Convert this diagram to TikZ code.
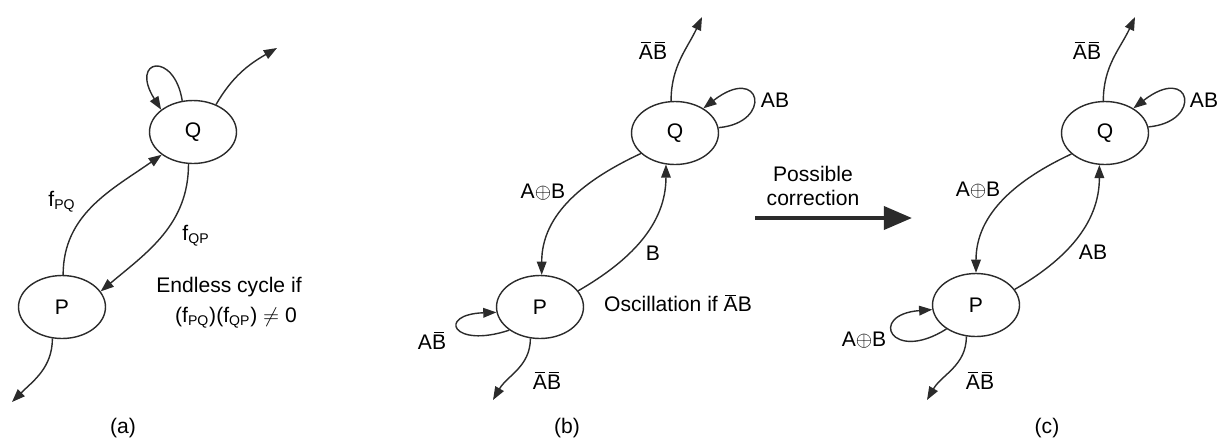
\documentclass[tikz,border=0pt]{standalone}
\usepackage{fontspec}
\setmainfont{Liberation Sans}
\usepackage{tikz}
\usetikzlibrary{arrows.meta,positioning,shapes.geometric}
\newcommand{\nbar}[1]{\kern1pt$\overline{\mbox{\kern-1pt#1\kern-1pt}}$\kern1pt}
\newcommand{\lsub}[1]{$_{\mbox{\fontsize{8}{9}\selectfont #1}}$}

\begin{document}
\begin{tikzpicture}[x=0.02cm,y=-0.02cm,>={Triangle[length=7.5pt,width=5.5pt]},
    every node/.style={font=\fontsize{12}{14}\selectfont},
    stnode/.style={draw=ink, ellipse, inner sep=0pt, line width=0.8pt,
      minimum width=1.74cm, minimum height=1.26cm},
    trans/.style={->, draw=ink, line width=0.8pt}]
  \definecolor{ink}{HTML}{2B2B2B}
  \useasboundingbox (0,0) rectangle (1223,437);
  % (a)
  \node[stnode] (Qa) at (193,132) {Q};
  \node[stnode] (Pa) at (62,307) {P};
  \coordinate (oQa) at (277,48);
  \coordinate (oPa) at (12,402);
  \draw[trans] (Qa.109) .. controls +(-8,-50) and +(-32,-51) .. (Qa.145);
  \draw[trans] (Qa.50) to[out=60,in=210] (oQa);
  \draw[trans] (Pa.88) to[out=90,in=215] (Qa.216);
  \draw[trans] (Qa.262) to[out=270,in=40] (Pa.22);
  \draw[trans] (Pa.253) to[out=270,in=45] (oPa);
  \node (fPQ) at (62,202) {f\lsub{PQ}};
  \node (fQP) at (196,236) {f\lsub{QP}};
  \node (cyc1) at (229,287) {Endless cycle if};
  \node (cyc2) at (236,318) {(f\lsub{PQ})(f\lsub{QP}) $\neq$ 0};
  \node (capa) at (123,428) {(a)};
  % (b)
  \node[stnode] (Qb) at (675,133) {Q};
  \node[stnode] (Pb) at (540,307) {P};
  \coordinate (oQb) at (702,17);
  \coordinate (oPb) at (493,400);
  \draw[trans] (Qb.97) to[out=90,in=245] (oQb);
  \draw[trans] (Qb.7) .. controls +(55,-5) and +(58,-45) .. (Qb.41);
  \draw[trans] (Qb.211) to[out=205,in=90] (Pb.87);
  \draw[trans] (Pb.23) to[out=30,in=270] (Qb.254);
  \draw[trans] (Pb.217) .. controls +(-57,19) and +(-60,2) .. (Pb.187);
  \draw[trans] (Pb.253) to[out=270,in=60] (oPb);
  \node (xQb) at (653,50) {\nbar{A}\nbar{B}};
  \node (sQb) at (775,100) {AB};
  \node (pqb) at (543,192) {A$\oplus$B};
  \node (qpb) at (653,253) {B};
  \node (osc) at (678,303) {Oscillation if \nbar{A}B};
  \node (sPb) at (432,340) {A\nbar{B}};
  \node (xPb) at (547,380) {\nbar{A}\nbar{B}};
  \node (capb) at (567,428) {(b)};
  % correction arrow
  \coordinate (cs) at (755,218);
  \coordinate (ce) at (912,218);
  \draw[line width=2.4pt, ink, -{Triangle[length=16pt,width=13pt]}] (cs) -- (ce);
  \node[align=center] (corr) at (813,186) {Possible\\correction};
  % (c)
  \node[stnode] (Qc) at (1105,133) {Q};
  \node[stnode] (Pc) at (976,305) {P};
  \coordinate (oQc) at (1135,17);
  \coordinate (oPc) at (927,400);
  \draw[trans] (Qc.93) to[out=90,in=245] (oQc);
  \draw[trans] (Qc.8) .. controls +(55,-5) and +(58,-45) .. (Qc.41);
  \draw[trans] (Qc.212) to[out=205,in=90] (Pc.90);
  \draw[trans] (Pc.22) to[out=30,in=270] (Qc.260);
  \draw[trans] (Pc.219) .. controls +(-55,35) and +(-65,5) .. (Pc.186);
  \draw[trans] (Pc.253) to[out=270,in=60] (oPc);
  \node (xQc) at (1087,50) {\nbar{A}\nbar{B}};
  \node (sQc) at (1204,100) {AB};
  \node (pqc) at (978,190) {A$\oplus$B};
  \node (qpc) at (1093,252) {AB};
  \node (sPc) at (864,340) {A$\oplus$B};
  \node (xPc) at (980,380) {\nbar{A}\nbar{B}};
  \node (capc) at (1047,428) {(c)};
\end{tikzpicture}
\end{document}
